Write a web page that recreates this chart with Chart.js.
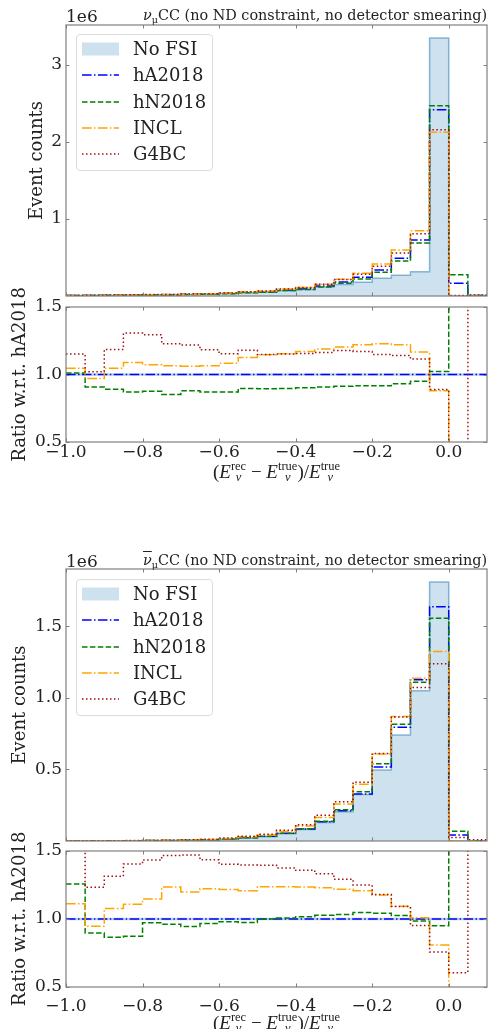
<!DOCTYPE html>
<html><head><meta charset="utf-8">
<script src="https://cdn.jsdelivr.net/npm/chart.js@4.4.0/dist/chart.umd.min.js"></script>
<style>
body{margin:0;width:489px;height:1029px;position:relative;background:#fff;overflow:hidden;font-family:'DejaVu Serif',serif;color:#222;}
.cv{position:absolute;left:0;}
.title{position:absolute;right:2px;font-size:14.4px;line-height:14px;white-space:nowrap;}
.title sub{font-size:9.5px;vertical-align:-3px;line-height:0;}
.off{position:absolute;left:66px;font-size:17px;line-height:17px;}
.legend{position:absolute;left:76px;width:137px;height:137px;border:1px solid #dcdcdc;border-radius:4px;background:rgba(255,255,255,0.85);box-sizing:border-box;}
.row{position:absolute;left:0;height:26px;display:flex;align-items:center;}
.row svg{margin-left:5px;}
.row span{position:absolute;left:56px;font-size:18px;white-space:nowrap;line-height:26px;}
.xt{position:absolute;left:66px;width:421px;text-align:center;font-family:'Liberation Serif',serif;font-size:19px;line-height:19px;white-space:nowrap;}
.ss{display:inline-flex;flex-direction:column;font-size:12.5px;line-height:11px;vertical-align:0.6em;}
</style></head>
<body>
<canvas id="c1" class="cv" width="489" height="300" style="top:0px"></canvas>
<canvas id="c2" class="cv" width="489" height="200" style="top:270px"></canvas>
<canvas id="c3" class="cv" width="489" height="305" style="top:540px"></canvas>
<canvas id="c4" class="cv" width="489" height="219" style="top:810px"></canvas>

<div class="off" style="top:7.6px">1e6</div>
<div class="title" style="top:7.7px"><i>ν</i><sub>μ</sub>CC (no ND constraint, no detector smearing)</div>
<div class="off" style="top:552.6px">1e6</div>
<div class="title" style="top:553px"><i style="text-decoration:overline">ν</i><sub>μ</sub>CC (no ND constraint, no detector smearing)</div>

<div class="xt" style="top:461px">(<i>E</i><span class="ss"><span>rec</span><i>ν</i></span> − <i>E</i><span class="ss"><span>true</span><i>ν</i></span>)/<i>E</i><span class="ss"><span>true</span><i>ν</i></span></div>
<div class="xt" style="top:1012px">(<i>E</i><span class="ss"><span>rec</span><i>ν</i></span> − <i>E</i><span class="ss"><span>true</span><i>ν</i></span>)/<i>E</i><span class="ss"><span>true</span><i>ν</i></span></div>

<div id="leg1" class="legend" style="top:34px"></div>
<div id="leg2" class="legend" style="top:579px"></div>

<script>
// ---- data (event counts in units of 1e6) ----
const binEdges = [-1.00,-0.95,-0.90,-0.85,-0.80,-0.75,-0.70,-0.65,-0.60,-0.55,-0.50,-0.45,-0.40,-0.35,-0.30,-0.25,-0.20,-0.15,-0.10,-0.05,0.00,0.05,0.10];
const xTicks = [-1.0,-0.8,-0.6,-0.4,-0.2,0.0];
const nuYTicks = [1,2,3];
const nubYTicks = [0.5,1.0,1.5];
const ratioTicks = [0.5,1.0,1.5];
const seriesNames = ['No FSI','hA2018','hN2018','INCL','G4BC'];

// nu_mu CC
const nuNoFSI = [0.008,0.009,0.011,0.013,0.015,0.018,0.021,0.025,0.032,0.042,0.052,0.068,0.086,0.116,0.150,0.180,0.230,0.270,0.316,3.350,0.000,0.000];
const nuHA    = [0.007,0.008,0.010,0.012,0.014,0.017,0.022,0.026,0.035,0.048,0.056,0.078,0.095,0.130,0.182,0.242,0.338,0.489,0.727,2.420,0.165,0.005];
const nuHN    = [0.0071,0.0073,0.0089,0.0105,0.0123,0.0145,0.0193,0.0226,0.0305,0.043,0.050,0.070,0.0856,0.118,0.166,0.222,0.310,0.455,0.690,2.470,0.277,0.006];
const nuINCL  = [0.0073,0.0078,0.0105,0.0131,0.0150,0.0181,0.0234,0.0277,0.038,0.054,0.064,0.090,0.111,0.154,0.219,0.295,0.415,0.597,0.848,2.127,0.000,0.000];
const nuG4BC  = [0.0081,0.0082,0.0119,0.0157,0.0181,0.0209,0.0268,0.0308,0.0404,0.0566,0.0643,0.0898,0.110,0.151,0.214,0.283,0.388,0.558,0.810,2.160,0.005,0.012];
// ratios w.r.t. hA2018 (nu)
const nuRatioHA   = [1,1,1,1,1,1,1,1,1,1,1,1,1,1,1,1,1,1,1,1,1,1];
const nuRatioHN   = [1.012,0.908,0.891,0.871,0.876,0.851,0.879,0.871,0.871,0.896,0.894,0.896,0.901,0.908,0.913,0.916,0.916,0.931,0.950,1.022,1.680,2.000];
const nuRatioINCL = [1.047,0.970,1.047,1.089,1.072,1.064,1.062,1.064,1.084,1.126,1.146,1.153,1.171,1.188,1.203,1.220,1.228,1.220,1.166,0.879,0.000,0.000];
const nuRatioG4BC = [1.151,1.020,1.186,1.307,1.295,1.228,1.218,1.183,1.153,1.180,1.149,1.151,1.156,1.163,1.178,1.171,1.149,1.141,1.114,0.889,0.030,2.400];

// anti-nu_mu CC
const nubNoFSI = [0.0005,0.0008,0.0012,0.0016,0.0022,0.0030,0.0045,0.0070,0.012,0.020,0.030,0.050,0.080,0.130,0.205,0.325,0.496,0.741,1.049,1.809,0.000,0.000];
const nubHA    = [0.0006,0.0010,0.0015,0.0020,0.0030,0.0040,0.0060,0.0090,0.015,0.024,0.034,0.054,0.084,0.134,0.212,0.329,0.517,0.795,1.126,1.636,0.042,0.001];
const nubHN    = [0.00075,0.0009,0.0013,0.0017,0.0029,0.0038,0.0057,0.0087,0.0147,0.0234,0.034,0.0544,0.0854,0.138,0.219,0.344,0.539,0.815,1.109,1.556,0.068,0.002];
const nubINCL  = [0.00067,0.00095,0.0016,0.0022,0.0034,0.0049,0.0072,0.011,0.0182,0.029,0.0421,0.0669,0.104,0.165,0.258,0.397,0.608,0.869,1.137,1.324,0.000,0.000];
const nubG4BC  = [0.0010,0.0012,0.0020,0.0028,0.0043,0.0059,0.0088,0.0129,0.021,0.0335,0.0474,0.0743,0.114,0.179,0.274,0.411,0.611,0.867,1.073,1.238,0.025,0.008];
// ratios w.r.t. hA2018 (anti-nu)
const nubRatioHA   = [1,1,1,1,1,1,1,1,1,1,1,1,1,1,1,1,1,1,1,1,1,1];
const nubRatioHN   = [1.257,0.897,0.865,0.873,0.973,0.961,0.944,0.966,0.980,0.975,1.000,1.007,1.017,1.027,1.034,1.047,1.042,1.025,0.985,0.951,1.620,2.000];
const nubRatioINCL = [1.113,0.946,1.078,1.108,1.147,1.235,1.199,1.223,1.216,1.208,1.238,1.238,1.235,1.230,1.218,1.208,1.176,1.093,1.010,0.809,0.000,0.000];
const nubRatioG4BC = [1.700,1.233,1.314,1.404,1.434,1.466,1.470,1.436,1.402,1.397,1.395,1.375,1.358,1.333,1.292,1.250,1.181,1.091,0.953,0.757,0.605,2.500];

// ---- styles ----
const C_FILL = 'rgba(31,119,180,0.22)', C_EDGE = 'rgba(31,119,180,0.5)';
const C_HA = '#0000ff', C_HN = '#008000', C_INCL = '#ffa500', C_G4 = '#a01010';
const DASHDOT = [9.6,2.4,1.5,2.4], DASHED = [5.5,2.4], DOTTED = [1.5,2.5];
const FONT = 'DejaVu Serif', TXT = '#222', FRAME = '#7f7f7f';

Chart.defaults.font.family = FONT;
Chart.defaults.color = TXT;

function stepPoints(vals){
  const pts = vals.map((v,i)=>({x:binEdges[i], y:v}));
  pts.push({x:binEdges[vals.length], y:vals[vals.length-1]});
  return pts;
}
function line(label, vals, color, dash, extra){
  return Object.assign({label, data:stepPoints(vals), borderColor:color, borderWidth:1.5,
    borderDash:dash, stepped:true, pointRadius:0, fill:false, clip:0}, extra||{});
}
const fmtX = v => (v < -1e-9 ? '\u2212' : '') + Math.abs(v).toFixed(1);

const frameTicks = {
  id:'frameTicks',
  afterDatasetsDraw(chart){
    const {ctx, chartArea:a, scales:{x,y}} = chart;
    const L = 3.5;
    ctx.save();
    ctx.strokeStyle = FRAME; ctx.lineWidth = 1;
    ctx.beginPath();
    x.ticks.forEach(t=>{ const p = Math.round(x.getPixelForValue(t.value))+0.5;
      ctx.moveTo(p,a.top); ctx.lineTo(p,a.top+L); ctx.moveTo(p,a.bottom); ctx.lineTo(p,a.bottom-L); });
    y.ticks.forEach(t=>{ const p = Math.round(y.getPixelForValue(t.value))+0.5;
      ctx.moveTo(a.left,p); ctx.lineTo(a.left+L,p); ctx.moveTo(a.right,p); ctx.lineTo(a.right-L,p); });
    ctx.stroke();
    ctx.lineWidth = 1.2;
    ctx.strokeRect(a.left, a.top, a.right-a.left, a.bottom-a.top);
    ctx.restore();
  }
};

function makeChart(id, datasets, o){
  new Chart(document.getElementById(id), {
    type:'line',
    data:{datasets},
    plugins:[frameTicks],
    options:{
      responsive:false, animation:false, devicePixelRatio:1,
      layout:{padding:{left:0,right:2,top:o.padTop,bottom:o.padBottom}},
      plugins:{legend:{display:false}, tooltip:{enabled:false}},
      scales:{
        x:{type:'linear', min:-1.0, max:0.1,
           afterBuildTicks:s=>{ s.ticks = xTicks.map(v=>({value:v})); },
           afterFit:s=>{ s.height = o.xHeight; s.paddingLeft = 0; s.paddingRight = 0; },
           grid:{display:false, drawTicks:false}, border:{display:false},
           ticks:{display:o.xLabels, padding:o.xPad, autoSkip:false, maxRotation:0,
                  font:{size:17}, color:TXT, callback:v=>fmtX(v)}},
        y:{type:'linear', min:o.ymin, max:o.ymax,
           afterBuildTicks:s=>{ s.ticks = o.yTicks.map(v=>({value:v})); },
           afterFit:s=>{ s.width = 66; s.paddingTop = 0; s.paddingBottom = 0; },
           grid:{display:false, drawTicks:false}, border:{display:false},
           ticks:{padding:4, autoSkip:false, font:{size:17}, color:TXT, callback:o.yFmt},
           title:{display:true, text:o.yTitle, font:{size:18}, color:TXT, padding:{top:o.titlePad, bottom:0}}}
      }
    }
  });
}

function mainSets(noFSI, ha, hn, incl, g4){
  return [
    line('G4BC', g4, C_G4, DOTTED),
    line('INCL', incl, C_INCL, DASHDOT),
    line('hN2018', hn, C_HN, DASHED),
    line('hA2018', ha, C_HA, DASHDOT),
    line('No FSI', noFSI, C_EDGE, [], {fill:'origin', backgroundColor:C_FILL})
  ];
}
function ratioSets(ha, hn, incl, g4){
  return [
    line('G4BC', g4, C_G4, DOTTED),
    line('INCL', incl, C_INCL, DASHDOT),
    line('hN2018', hn, C_HN, DASHED),
    line('hA2018', ha, C_HA, DASHDOT),
    line('unity', ha, 'rgba(31,119,180,0.3)', [], {borderWidth:2.5})
  ];
}

makeChart('c1', mainSets(nuNoFSI,nuHA,nuHN,nuINCL,nuG4BC),
  {padTop:25, padBottom:4, xHeight:0, xLabels:false, xPad:0, ymin:0, ymax:3.52,
   yTicks:nuYTicks, yFmt:v=>String(v), yTitle:'Event counts', titlePad:26.7});
makeChart('c2', ratioSets(nuRatioHA,nuRatioHN,nuRatioINCL,nuRatioG4BC),
  {padTop:37, padBottom:0, xHeight:28, xLabels:true, xPad:0, ymin:0.5, ymax:1.5,
   yTicks:ratioTicks, yFmt:v=>v.toFixed(1), yTitle:'Ratio w.r.t. hA2018', titlePad:9.2});
makeChart('c3', mainSets(nubNoFSI,nubHA,nubHN,nubINCL,nubG4BC),
  {padTop:29, padBottom:4, xHeight:0, xLabels:false, xPad:0, ymin:0, ymax:1.90,
   yTicks:nubYTicks, yFmt:v=>v.toFixed(1), yTitle:'Event counts', titlePad:9.7});
makeChart('c4', ratioSets(nubRatioHA,nubRatioHN,nubRatioINCL,nubRatioG4BC),
  {padTop:41, padBottom:0, xHeight:42, xLabels:true, xPad:9, ymin:0.5, ymax:1.5,
   yTicks:ratioTicks, yFmt:v=>v.toFixed(1), yTitle:'Ratio w.r.t. hA2018', titlePad:9.7});

// ---- legends (HTML) ----
const legendStyles = [
  {type:'patch', color:C_FILL},
  {type:'line', color:C_HA, dash:DASHDOT},
  {type:'line', color:C_HN, dash:DASHED},
  {type:'line', color:C_INCL, dash:DASHDOT},
  {type:'line', color:C_G4, dash:DOTTED}
];
function buildLegend(id){
  const el = document.getElementById(id);
  const rowTops = [0.5, 27, 53.5, 80, 106];
  seriesNames.forEach((name,i)=>{
    const st = legendStyles[i];
    const row = document.createElement('div');
    row.className = 'row'; row.style.top = rowTops[i] + 'px';
    let svg;
    if (st.type === 'patch') {
      svg = '<svg width="37" height="14"><rect x="0" y="0.5" width="37" height="13" fill="'+st.color+'"/></svg>';
    } else {
      svg = '<svg width="37" height="4"><line x1="0" y1="2" x2="37" y2="2" stroke="'+st.color+'" stroke-width="1.5" stroke-dasharray="'+st.dash.join(',')+'"/></svg>';
    }
    row.innerHTML = svg + '<span>' + name + '</span>';
    el.appendChild(row);
  });
}
buildLegend('leg1');
buildLegend('leg2');
</script>
</body></html>
